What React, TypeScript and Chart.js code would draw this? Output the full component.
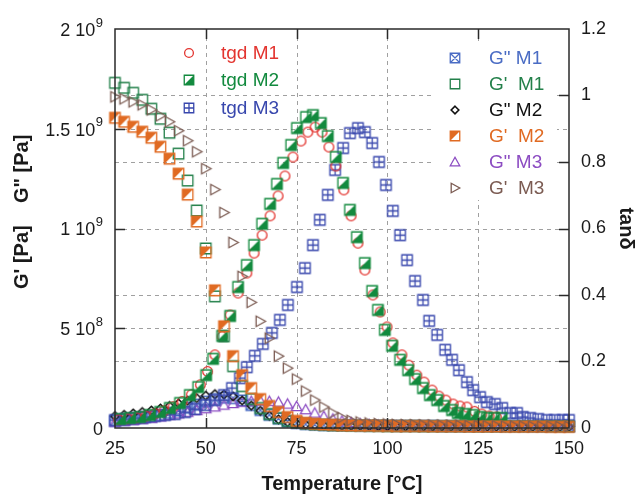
import React, { useEffect, useRef } from 'react';
import { Chart, registerables } from 'chart.js';

Chart.register(...registerables);

// ---------- data ----------
// Temperatures (°C) for the modulus series (left axis, values in 1e8 Pa)
const TEMP_G = [25, 27.5, 30, 32.5, 35, 37.5, 40, 42.5, 45, 47.5, 50, 52.5, 55, 57.5, 60, 62.5, 65, 67.5, 70, 72.5, 75, 77.5, 80, 82.5, 85, 87.5, 90, 92.5, 95, 97.5, 100, 102.5, 105, 107.5, 110, 112.5, 115, 117.5, 120, 122.5, 125, 127.5, 130, 132.5, 135, 137.5, 140, 142.5, 145, 147.5, 150];

const G1_STORAGE = [17.3, 17.05, 16.8, 16.45, 16.0, 15.5, 14.8, 13.75, 12.4, 10.9, 9.0, 6.6, 4.6, 3.1, 2.1, 1.45, 1.0, 0.7, 0.5, 0.36, 0.28, 0.22, 0.18, 0.16, 0.14, 0.13, 0.12, 0.12, 0.11, 0.11, 0.1, 0.1, 0.1, 0.1, 0.09, 0.09, 0.09, 0.09, 0.09, 0.09, 0.08, 0.08, 0.08, 0.08, 0.08, 0.08, 0.08, 0.08, 0.08, 0.08, 0.08];
const G2_STORAGE = [15.55, 15.35, 15.1, 14.85, 14.55, 14.1, 13.5, 12.75, 11.7, 10.35, 8.8, 6.9, 5.1, 3.6, 2.65, 2.0, 1.45, 1.1, 0.8, 0.55, 0.36, 0.26, 0.21, 0.18, 0.16, 0.14, 0.13, 0.12, 0.12, 0.11, 0.11, 0.1, 0.1, 0.1, 0.1, 0.09, 0.09, 0.09, 0.09, 0.08, 0.08, 0.08, 0.08, 0.07, 0.07, 0.07, 0.07, 0.07, 0.06, 0.06, 0.06];
const G3_STORAGE = [16.6, 16.5, 16.35, 16.2, 15.95, 15.65, 15.35, 14.9, 14.4, 13.85, 13.0, 11.95, 10.8, 9.3, 7.6, 6.3, 5.35, 4.5, 3.6, 3.0, 2.45, 1.85, 1.4, 1.05, 0.75, 0.52, 0.38, 0.3, 0.25, 0.22, 0.2, 0.18, 0.17, 0.16, 0.15, 0.14, 0.14, 0.13, 0.13, 0.12, 0.12, 0.11, 0.11, 0.1, 0.1, 0.1, 0.09, 0.09, 0.09, 0.08, 0.08];
const G1_LOSS = [0.35, 0.4, 0.45, 0.5, 0.57, 0.65, 0.76, 0.88, 1.02, 1.17, 1.32, 1.45, 1.52, 1.5, 1.38, 1.15, 0.9, 0.66, 0.47, 0.33, 0.25, 0.2, 0.17, 0.15, 0.14, 0.13, 0.13, 0.12, 0.12, 0.12, 0.12, 0.11, 0.11, 0.11, 0.11, 0.11, 0.1, 0.1, 0.1, 0.1, 0.1, 0.1, 0.1, 0.1, 0.1, 0.1, 0.1, 0.1, 0.1, 0.1, 0.1];
const G2_LOSS = [0.6, 0.66, 0.73, 0.8, 0.88, 0.98, 1.1, 1.23, 1.37, 1.5, 1.62, 1.7, 1.68, 1.58, 1.38, 1.12, 0.86, 0.62, 0.43, 0.3, 0.22, 0.17, 0.14, 0.12, 0.11, 0.1, 0.1, 0.1, 0.09, 0.09, 0.09, 0.09, 0.08, 0.08, 0.08, 0.08, 0.08, 0.07, 0.07, 0.07, 0.07, 0.07, 0.07, 0.06, 0.06, 0.06, 0.06, 0.06, 0.06, 0.06, 0.06];
const G3_LOSS = [0.3, 0.34, 0.38, 0.43, 0.49, 0.56, 0.63, 0.71, 0.79, 0.88, 0.97, 1.06, 1.15, 1.23, 1.3, 1.34, 1.36, 1.34, 1.3, 1.2, 1.08, 0.92, 0.75, 0.58, 0.45, 0.35, 0.27, 0.21, 0.17, 0.14, 0.12, 0.1, 0.09, 0.08, 0.07, 0.07, 0.06, 0.06, 0.05, 0.05, 0.05, 0.05, 0.04, 0.04, 0.04, 0.04, 0.03, 0.03, 0.03, 0.03, 0.03];

// tan δ series (right axis)
const TEMP_TGD1 = [26, 28.5, 31, 33.5, 36, 38.5, 41, 43.5, 46, 48.5, 50.5, 52.5, 54.5, 56.7, 58.9, 61.3, 63.3, 65.5, 67.7, 69.9, 71.8, 74, 76.2, 78.1, 80.1, 82, 83.9, 85.8, 88, 90, 91.9, 93.8, 96, 98, 99.9, 101.5, 104, 105.9, 108.1, 110.1, 112.3, 114.2, 116.1, 118.1, 120, 121.9, 124, 126, 128, 130];
const TGD1 = [0.025, 0.028, 0.031, 0.036, 0.043, 0.052, 0.064, 0.08, 0.1, 0.13, 0.17, 0.22, 0.275, 0.34, 0.406, 0.466, 0.526, 0.58, 0.638, 0.698, 0.758, 0.815, 0.863, 0.89, 0.905, 0.89, 0.845, 0.788, 0.716, 0.638, 0.556, 0.475, 0.4, 0.349, 0.304, 0.256, 0.22, 0.189, 0.159, 0.138, 0.114, 0.096, 0.084, 0.072, 0.066, 0.063, 0.05, 0.042, 0.036, 0.033];
const TEMP_TGD2 = [26.4, 29.1, 31.9, 34.6, 37.4, 40.1, 42.9, 45.6, 47.9, 50.1, 52, 54.5, 56.7, 58.9, 61.3, 63.3, 65.5, 67.7, 69.6, 71.3, 73.5, 75.1, 77.6, 79.5, 81.7, 83.6, 85.8, 87.8, 89.7, 91.6, 93.8, 95.8, 97.4, 99.3, 101.3, 103.5, 105.7, 107.6, 109.8, 111.7, 113.7, 115.6, 117.8, 119.4, 121.4, 123.6, 125.5, 127.4, 129.4, 131.5];
const TGD2 = [0.027, 0.03, 0.033, 0.039, 0.048, 0.06, 0.075, 0.099, 0.123, 0.159, 0.208, 0.277, 0.337, 0.424, 0.49, 0.55, 0.614, 0.674, 0.734, 0.797, 0.851, 0.902, 0.935, 0.941, 0.917, 0.878, 0.815, 0.737, 0.656, 0.574, 0.496, 0.412, 0.355, 0.295, 0.247, 0.205, 0.174, 0.147, 0.12, 0.099, 0.084, 0.066, 0.054, 0.045, 0.042, 0.039, 0.033, 0.03, 0.03, 0.03];
const TEMP_TGD3 = [25, 27.8, 30.5, 33.3, 36, 38.8, 41.5, 44.3, 47, 49.8, 52.5, 55, 57.2, 59.4, 61.3, 63.5, 65.7, 68.2, 70.4, 72.6, 75.1, 77.3, 79.5, 81.4, 83.6, 85.6, 87.8, 89.7, 91.9, 93.8, 95.8, 97.7, 99.6, 101.5, 103.5, 105.4, 107.6, 109.8, 111.5, 113.7, 115.9, 117.8, 119.7, 121.9, 123.6, 125.5, 127.4, 129.6, 131.6, 133.8, 135.7, 137.3, 139.3, 141.5, 143.9, 146.1, 148.3, 150];
const TGD3 = [0.024, 0.027, 0.03, 0.033, 0.036, 0.039, 0.042, 0.048, 0.057, 0.069, 0.084, 0.099, 0.12, 0.15, 0.183, 0.217, 0.253, 0.286, 0.325, 0.37, 0.424, 0.481, 0.55, 0.626, 0.701, 0.776, 0.842, 0.887, 0.902, 0.89, 0.857, 0.8, 0.731, 0.653, 0.58, 0.505, 0.442, 0.385, 0.322, 0.28, 0.235, 0.205, 0.174, 0.138, 0.114, 0.093, 0.078, 0.072, 0.06, 0.045, 0.045, 0.033, 0.03, 0.027, 0.024, 0.024, 0.024, 0.024];

// axes
const X_TICKS = [25, 50, 75, 100, 125, 150];
const LEFT_TICK_VALUES = [0, 5, 10, 15, 20];
const LEFT_TICK_BASES = ['0', '5 10', '1 10', '1.5 10', '2 10'];
const LEFT_TICK_EXPONENTS = ['', '8', '9', '9', '9'];
const RIGHT_TICK_VALUES = [0, 0.2, 0.4, 0.6, 0.8, 1, 1.2];
const RIGHT_TICK_LABELS = ['0', '0.2', '0.4', '0.6', '0.8', '1', '1.2'];

const FONT = "'Liberation Sans', Arial, Helvetica, sans-serif";

type Kind = 'circle' | 'square' | 'halfLR' | 'halfUL' | 'plus' | 'xbox' | 'diamond' | 'triUp' | 'triRight';

interface Series {
  label: string;
  xs: number[];
  ys: number[];
  axis: 'y' | 'y2';
  kind: Kind;
  color: string;
  order: number;
}

const SERIES: Series[] = [
  { label: 'tgd M1', xs: TEMP_TGD1, ys: TGD1, axis: 'y2', kind: 'circle', color: '#e3342f', order: 5 },
  { label: 'tgd M2', xs: TEMP_TGD2, ys: TGD2, axis: 'y2', kind: 'halfLR', color: '#128a3e', order: 4 },
  { label: 'tgd M3', xs: TEMP_TGD3, ys: TGD3, axis: 'y2', kind: 'plus', color: '#3847ad', order: 6 },
  { label: 'G" M1', xs: TEMP_G, ys: G1_LOSS, axis: 'y', kind: 'xbox', color: '#4a6cc4', order: 9 },
  { label: "G'  M1", xs: TEMP_G, ys: G1_STORAGE, axis: 'y', kind: 'square', color: '#23804a', order: 3 },
  { label: 'G" M2', xs: TEMP_G, ys: G2_LOSS, axis: 'y', kind: 'diamond', color: '#111111', order: 7 },
  { label: "G'  M2", xs: TEMP_G, ys: G2_STORAGE, axis: 'y', kind: 'halfUL', color: '#e06a22', order: 2 },
  { label: 'G" M3', xs: TEMP_G, ys: G3_LOSS, axis: 'y', kind: 'triUp', color: '#8c4cc2', order: 8 },
  { label: "G'  M3", xs: TEMP_G, ys: G3_STORAGE, axis: 'y', kind: 'triRight', color: '#7b5b52', order: 1 },
];

// legend layout
const KEY1 = { markerX: 189, textX: 221, rows: [53, 80, 108], series: [0, 1, 2] };
const KEY2 = { markerX: 455, textX: 489, rows: [58, 84, 110, 136, 162, 188], series: [3, 4, 5, 6, 7, 8] };
const KEY2_BOX = { x: 432, y: 42, w: 125, h: 158 };

function drawMarker(ctx: CanvasRenderingContext2D, kind: Kind, color: string, cx: number, cy: number, s: number) {
  const h = s / 2;
  ctx.save();
  ctx.translate(cx, cy);
  ctx.strokeStyle = color;
  ctx.fillStyle = color;
  ctx.lineWidth = 1.3;
  ctx.setLineDash([]);
  ctx.beginPath();
  switch (kind) {
    case 'circle':
      ctx.arc(0, 0, h * 0.92, 0, Math.PI * 2);
      ctx.stroke();
      break;
    case 'square':
      ctx.rect(-h, -h, s, s);
      ctx.stroke();
      break;
    case 'halfLR':
      ctx.moveTo(h, -h); ctx.lineTo(h, h); ctx.lineTo(-h, h); ctx.closePath(); ctx.fill();
      ctx.beginPath(); ctx.rect(-h, -h, s, s); ctx.stroke();
      break;
    case 'halfUL':
      ctx.moveTo(-h, -h); ctx.lineTo(h, -h); ctx.lineTo(-h, h); ctx.closePath(); ctx.fill();
      ctx.beginPath(); ctx.rect(-h, -h, s, s); ctx.stroke();
      break;
    case 'plus':
      ctx.rect(-h, -h, s, s);
      ctx.moveTo(0, -h); ctx.lineTo(0, h);
      ctx.moveTo(-h, 0); ctx.lineTo(h, 0);
      ctx.stroke();
      break;
    case 'xbox':
      ctx.rect(-h, -h, s, s);
      ctx.moveTo(-h, -h); ctx.lineTo(h, h);
      ctx.moveTo(h, -h); ctx.lineTo(-h, h);
      ctx.stroke();
      break;
    case 'diamond': {
      const d = h * 0.8;
      ctx.lineWidth = 1.6;
      ctx.moveTo(0, -d); ctx.lineTo(d, 0); ctx.lineTo(0, d); ctx.lineTo(-d, 0); ctx.closePath();
      ctx.stroke();
      break;
    }
    case 'triUp':
      ctx.moveTo(0, -h); ctx.lineTo(h, h * 0.8); ctx.lineTo(-h, h * 0.8); ctx.closePath();
      ctx.stroke();
      break;
    case 'triRight':
      ctx.moveTo(-h * 0.8, -h); ctx.lineTo(h, 0); ctx.lineTo(-h * 0.8, h); ctx.closePath();
      ctx.stroke();
      break;
  }
  ctx.restore();
}

function makeMarker(kind: Kind, color: string, s: number): HTMLCanvasElement {
  const c = document.createElement('canvas');
  const n = Math.ceil(s) + 4;
  c.width = n;
  c.height = n;
  const cx = c.getContext('2d')!;
  drawMarker(cx, kind, color, n / 2, n / 2, s);
  return c;
}

function tickLabel(values: number[], labels: string[], v: number): string {
  const i = values.findIndex((t) => Math.abs(t - v) < 1e-6);
  return i >= 0 ? labels[i] : '';
}

const framePlugin = {
  id: 'frame',
  beforeDatasetsDraw(chart: any) {
    const { ctx, chartArea: a, scales } = chart;
    ctx.save();
    ctx.beginPath();
    ctx.rect(a.left, a.top, a.right - a.left, a.bottom - a.top);
    ctx.rect(KEY2_BOX.x, KEY2_BOX.y, KEY2_BOX.w, KEY2_BOX.h);
    ctx.clip('evenodd');
    ctx.setLineDash([4, 4]);
    ctx.strokeStyle = '#a0a0a0';
    ctx.lineWidth = 1;
    ctx.beginPath();
    X_TICKS.slice(1, -1).forEach((v) => {
      const x = Math.round(scales.x.getPixelForValue(v)) + 0.5;
      ctx.moveTo(x, a.top); ctx.lineTo(x, a.bottom);
    });
    LEFT_TICK_VALUES.slice(1, -1).forEach((v) => {
      const y = Math.round(scales.y.getPixelForValue(v)) + 0.5;
      ctx.moveTo(a.left, y); ctx.lineTo(a.right, y);
    });
    RIGHT_TICK_VALUES.slice(1, -1).forEach((v) => {
      const y = Math.round(scales.y2.getPixelForValue(v)) + 0.5;
      ctx.moveTo(a.left, y); ctx.lineTo(a.right, y);
    });
    ctx.stroke();
    ctx.restore();
  },
  afterDatasetsDraw(chart: any) {
    const { ctx, chartArea: a, scales } = chart;
    ctx.save();
    ctx.setLineDash([]);
    ctx.strokeStyle = '#2a2a2a';
    ctx.lineWidth = 1.5;
    ctx.strokeRect(a.left, a.top, a.right - a.left, a.bottom - a.top);
    ctx.beginPath();
    const tl = 10;
    X_TICKS.slice(1, -1).forEach((v) => {
      const x = Math.round(scales.x.getPixelForValue(v)) + 0.5;
      ctx.moveTo(x, a.bottom); ctx.lineTo(x, a.bottom - tl);
      ctx.moveTo(x, a.top); ctx.lineTo(x, a.top + tl);
    });
    LEFT_TICK_VALUES.slice(1, -1).forEach((v) => {
      const y = Math.round(scales.y.getPixelForValue(v)) + 0.5;
      ctx.moveTo(a.left, y); ctx.lineTo(a.left + tl, y);
    });
    RIGHT_TICK_VALUES.slice(1, -1).forEach((v) => {
      const y = Math.round(scales.y2.getPixelForValue(v)) + 0.5;
      ctx.moveTo(a.right, y); ctx.lineTo(a.right - tl, y);
    });
    ctx.stroke();

    // left tick labels with superscript exponents
    ctx.fillStyle = '#1a1a1a';
    ctx.textBaseline = 'middle';
    LEFT_TICK_VALUES.forEach((v, i) => {
      const y = scales.y.getPixelForValue(v) + 2;
      const exp = LEFT_TICK_EXPONENTS[i];
      const rightEdge = a.left - 12;
      ctx.font = `13px ${FONT}`;
      const ew = exp ? ctx.measureText(exp).width : 0;
      if (exp) {
        ctx.textAlign = 'right';
        ctx.fillText(exp, rightEdge, y - 8);
      }
      ctx.font = `18px ${FONT}`;
      ctx.textAlign = 'right';
      ctx.fillText(LEFT_TICK_BASES[i], rightEdge - ew - (exp ? 0.5 : 0), y);
    });

    // legends
    ctx.font = `19px ${FONT}`;
    ctx.textBaseline = 'middle';
    ctx.textAlign = 'left';
    [KEY1, KEY2].forEach((key) => {
      key.series.forEach((si, r) => {
        const s = SERIES[si];
        const y = key.rows[r];
        drawMarker(ctx, s.kind, s.color, key.markerX, y, 9.5);
        ctx.fillStyle = s.color;
        ctx.fillText(s.label, key.textX, y + 1);
      });
    });
    ctx.restore();
  },
};

export default function App() {
  const ref = useRef<HTMLCanvasElement | null>(null);

  useEffect(() => {
    if (!ref.current) return;
    const datasets = SERIES.map((s) => ({
      label: s.label,
      data: s.xs.map((x, i) => ({ x, y: s.ys[i] })),
      yAxisID: s.axis,
      pointStyle: makeMarker(s.kind, s.color, 10.5) as any,
      pointRadius: 6,
      showLine: false,
      order: s.order,
      clip: false as any,
    }));
    const tickFont = { family: FONT, size: 18 };
    const titleFont = { family: FONT, size: 20, weight: 'bold' as const };
    const chart = new Chart(ref.current, {
      type: 'scatter',
      data: { datasets },
      options: {
        animation: false,
        responsive: true,
        maintainAspectRatio: false,
        events: [],
        layout: { padding: { top: 29, left: 0, right: 0, bottom: 0 } },
        plugins: { legend: { display: false }, tooltip: { enabled: false } },
        scales: {
          x: {
            type: 'linear',
            position: 'bottom',
            min: 25,
            max: 150,
            grid: { display: false, drawTicks: false },
            border: { display: false },
            ticks: {
              stepSize: 25,
              padding: 10,
              maxRotation: 0,
              autoSkip: false,
              color: '#1a1a1a',
              font: tickFont,
              callback: (v: any) => String(v),
            },
            title: {
              display: true,
              text: 'Temperature [°C]',
              color: '#1a1a1a',
              font: titleFont,
              padding: { top: 0, bottom: 0 },
            },
            afterFit: (s: any) => { s.height = 68; },
          },
          y: {
            type: 'linear',
            position: 'left',
            min: 0,
            max: 20,
            grid: { display: false, drawTicks: false },
            border: { display: false },
            ticks: {
              stepSize: 5,
              padding: 15,
              autoSkip: false,
              color: 'rgba(0,0,0,0)',
              font: tickFont,
              callback: (v: any) => tickLabel(LEFT_TICK_VALUES, LEFT_TICK_BASES, Number(v)),
            },
            title: {
              display: true,
              text: '      G\' [Pa]    G" [Pa]',
              color: '#1a1a1a',
              font: titleFont,
              padding: { top: 10, bottom: 0 },
            },
            afterFit: (s: any) => { s.width = 115; },
          },
          y2: {
            type: 'linear',
            position: 'right',
            min: 0,
            max: 1.2,
            grid: { display: false, drawTicks: false },
            border: { display: false },
            ticks: {
              stepSize: 0.2,
              padding: 12,
              autoSkip: false,
              color: '#1a1a1a',
              font: tickFont,
              callback: (v: any) => tickLabel(RIGHT_TICK_VALUES, RIGHT_TICK_LABELS, Number(v)),
            },
            title: {
              display: true,
              text: 'tanδ',
              color: '#1a1a1a',
              font: titleFont,
              padding: { top: 0, bottom: 0 },
            },
            afterFit: (s: any) => { s.width = 69; },
          },
        },
      } as any,
      plugins: [framePlugin as any],
    });
    return () => chart.destroy();
  }, []);

  return (
    <div style={{ position: 'fixed', left: 0, top: 0, width: 638, height: 496, background: '#ffffff' }}>
      <canvas ref={ref} />
    </div>
  );
}
